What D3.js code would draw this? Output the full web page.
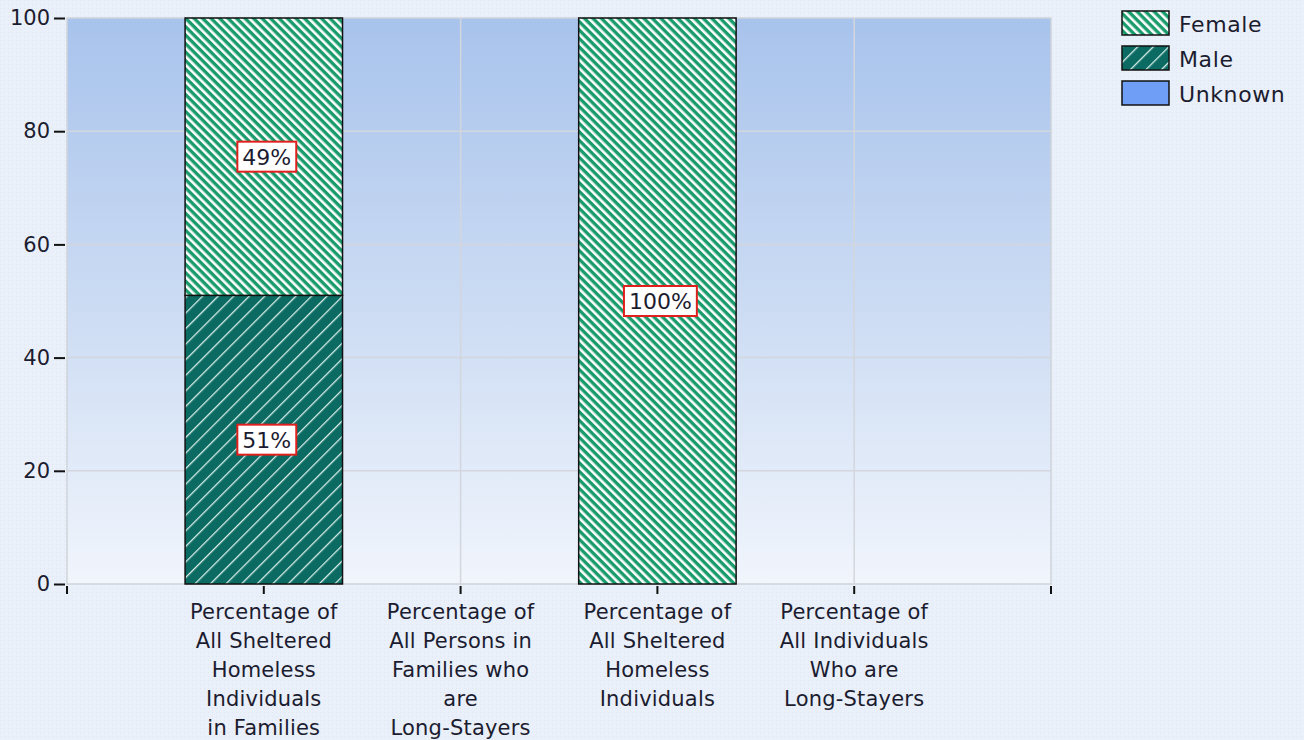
<!DOCTYPE html>
<head>
  <meta http-equiv="Content-Type" content="text/html; charset=utf-8">
  <style>
    body { margin: 0; background: #e9eff9; }
    text { font-family: "DejaVu Sans", Verdana, sans-serif; fill: #1c1c30; }
  </style>
</head>
<body></body>
<script src="https://d3js.org/d3.v7.min.js"></script>
<script>

var width = 1304,
    height = 740;

// Data
var categories = [
  ["Percentage of", "All Sheltered", "Homeless", "Individuals", "in Families"],
  ["Percentage of", "All Persons in", "Families who", "are", "Long-Stayers"],
  ["Percentage of", "All Sheltered", "Homeless", "Individuals"],
  ["Percentage of", "All Individuals", "Who are", "Long-Stayers"]
];
var seriesNames = ["Male", "Female", "Unknown"];   // stacking order, bottom up
var male    = [51, 0, 0, 0];
var female  = [49, 0, 100, 0];
var unknown = [0, 0, 0, 0];
var yTicks = [0, 20, 40, 60, 80, 100];
var legendNames = ["Female", "Male", "Unknown"];

var margin = {left: 67, right: 253, top: 18, bottom: 156};
var pw = width - margin.left - margin.right,
    ph = height - margin.top - margin.bottom;

var xs = d3.scaleLinear().domain([0, categories.length + 1]).range([margin.left, margin.left + pw]);
var ys = d3.scaleLinear().domain([0, 100]).range([margin.top + ph, margin.top]);
var step = xs(1) - xs(0);
var barW = step * 0.8;

var svg = d3.select("body").append("svg")
    .attr("width", width)
    .attr("height", height);

var defs = svg.append("defs");

var pageGrad = defs.append("pattern")
    .attr("id", "dots").attr("width", 4).attr("height", 4)
    .attr("patternUnits", "userSpaceOnUse");
pageGrad.append("rect").attr("width", 4).attr("height", 4).attr("fill", "#eaf0f9");
pageGrad.append("rect").attr("width", 1).attr("height", 1).attr("fill", "#dfe7f4");

var plotGrad = defs.append("linearGradient")
    .attr("id", "plotbg").attr("x1", 0).attr("y1", 0).attr("x2", 0).attr("y2", 1);
plotGrad.append("stop").attr("offset", "0%").attr("stop-color", "#a8c3ec");
plotGrad.append("stop").attr("offset", "50%").attr("stop-color", "#cbdbf3");
plotGrad.append("stop").attr("offset", "100%").attr("stop-color", "#f1f5fc");

// hatch patterns
var fem = defs.append("pattern")
    .attr("id", "femaleHatch").attr("width", 6).attr("height", 6)
    .attr("patternUnits", "userSpaceOnUse")
    .attr("patternTransform", "rotate(45)");
fem.append("rect").attr("width", 6).attr("height", 6).attr("fill", "#ffffff");
fem.append("rect").attr("width", 6).attr("height", 3.4).attr("fill", "#1a9b6c");

var mal = defs.append("pattern")
    .attr("id", "maleHatch").attr("width", 11).attr("height", 11)
    .attr("patternUnits", "userSpaceOnUse")
    .attr("patternTransform", "rotate(-45)");
mal.append("rect").attr("width", 11).attr("height", 11).attr("fill", "#0b6b62");
mal.append("rect").attr("width", 11).attr("height", 1.3).attr("fill", "#d8eee9");

var fills = {"Female": "url(#femaleHatch)", "Male": "url(#maleHatch)", "Unknown": "#6e9ef6"};

svg.append("rect").attr("width", width).attr("height", height).attr("fill", "url(#dots)");

// plot area
svg.append("rect")
    .attr("x", margin.left).attr("y", margin.top)
    .attr("width", pw).attr("height", ph)
    .attr("fill", "url(#plotbg)")
    .attr("stroke", "#cfd3da").attr("stroke-width", 1.5);

// grid
svg.selectAll(".hgrid").data(yTicks.slice(1, -1)).enter().append("line")
    .attr("x1", margin.left).attr("x2", margin.left + pw)
    .attr("y1", function(d){return ys(d);}).attr("y2", function(d){return ys(d);})
    .attr("stroke", "#d3d6dc").attr("stroke-width", 1.5);
svg.selectAll(".vgrid").data(d3.range(1, categories.length + 1)).enter().append("line")
    .attr("x1", function(d){return xs(d);}).attr("x2", function(d){return xs(d);})
    .attr("y1", margin.top).attr("y2", margin.top + ph)
    .attr("stroke", "#d3d6dc").attr("stroke-width", 1.5);

// stacked bars
var rows = categories.map(function(c, i){
  return {Male: male[i], Female: female[i], Unknown: unknown[i], i: i};
});
var stack = d3.stack().keys(seriesNames)(rows);

stack.forEach(function(layer){
  svg.selectAll(".bar-" + layer.key).data(layer.filter(function(d){return d[1] > d[0];}))
    .enter().append("rect")
    .attr("x", function(d){return xs(d.data.i + 1) - barW / 2;})
    .attr("y", function(d){return ys(d[1]);})
    .attr("width", barW)
    .attr("height", function(d){return ys(d[0]) - ys(d[1]);})
    .attr("fill", fills[layer.key])
    .attr("stroke", "#111").attr("stroke-width", 1.5);
});

// value labels
stack.forEach(function(layer){
  var g = svg.selectAll(".lab-" + layer.key).data(layer.filter(function(d){return d[1] > d[0];}))
    .enter().append("g")
    .attr("transform", function(d){return "translate(" + (xs(d.data.i + 1) + 3) + "," + ys((d[0] + d[1]) / 2) + ")";});
  g.append("text")
    .attr("text-anchor", "middle").attr("dy", "0.36em")
    .style("font-size", "22px")
    .text(function(d){return Math.round(d[1] - d[0]) + "%";});
  g.each(function(){
    var t = d3.select(this).select("text").node().getBBox();
    d3.select(this).insert("rect", "text")
      .attr("x", t.x - 5).attr("y", -15)
      .attr("width", t.width + 10).attr("height", 30)
      .attr("fill", "#fff").attr("stroke", "#e0201c").attr("stroke-width", 2);
  });
});

// y axis
var yAxis = svg.append("g").attr("transform", "translate(" + margin.left + ",0)")
  .call(d3.axisLeft(ys).tickValues(yTicks).tickSize(13).tickPadding(4));
yAxis.select(".domain").remove();
yAxis.selectAll("line").attr("stroke", "#111").attr("stroke-width", 2).attr("x2", -2).attr("x1", -13);
yAxis.selectAll("text").style("font-size", "21px").attr("fill", "#1c1c30");

// x axis ticks
var xAxis = svg.append("g").attr("transform", "translate(0," + (margin.top + ph) + ")");
xAxis.selectAll("line").data(d3.range(0, categories.length + 2)).enter().append("line")
    .attr("x1", function(d){return xs(d);}).attr("x2", function(d){return xs(d);})
    .attr("y1", 2).attr("y2", 10)
    .attr("stroke", "#111").attr("stroke-width", 2);

var xl = xAxis.selectAll(".xlab").data(categories).enter().append("text")
    .attr("text-anchor", "middle")
    .style("font-size", "21px")
    .style("letter-spacing", "0.2px")
    .attr("transform", function(d, i){return "translate(" + xs(i + 1) + ",35)";});
xl.selectAll("tspan").data(function(d){return d;}).enter().append("tspan")
    .attr("x", 0).attr("dy", function(d, j){return j ? 29 : 0;})
    .text(function(d){return d;});

// legend
var leg = svg.selectAll(".legend").data(legendNames).enter().append("g")
    .attr("transform", function(d, i){return "translate(1122," + (11 + i * 35) + ")";});
leg.append("rect")
    .attr("width", 47).attr("height", 24)
    .attr("fill", function(d){return fills[d];})
    .attr("stroke", "#111").attr("stroke-width", 1.5);
leg.append("text")
    .attr("x", 57).attr("y", 13).attr("dy", "0.36em")
    .style("font-size", "22px")
    .style("letter-spacing", "0.6px")
    .text(function(d){return d;});

</script>
</html>
